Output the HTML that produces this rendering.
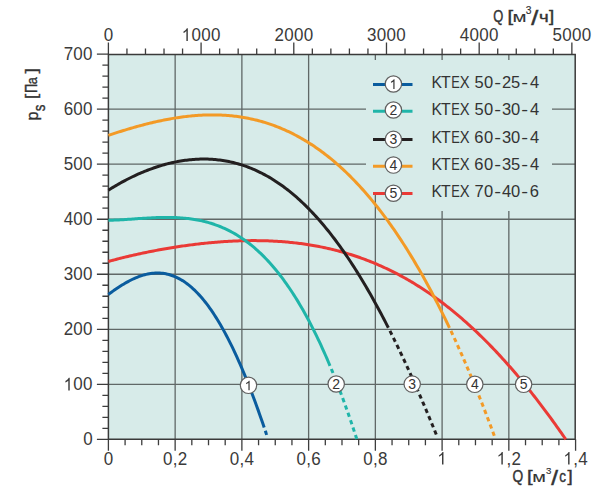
<!DOCTYPE html>
<html><head><meta charset="utf-8"><style>
html,body{margin:0;padding:0;background:#fff;}
svg{display:block;font-family:"Liberation Sans",sans-serif;}
</style></head><body>
<svg width="600" height="492" viewBox="0 0 600 492">
<rect x="108.4" y="54.5" width="466.80000000000007" height="384.85" fill="#d7ebe9"/>
<path d="M175.14,54.50V439.35 M241.88,54.50V439.35 M308.62,54.50V439.35 M375.36,54.50V439.35 M442.10,54.50V439.35 M508.84,54.50V439.35 M108.40,384.32H575.20 M108.40,329.29H575.20 M108.40,274.26H575.20 M108.40,219.23H575.20 M108.40,164.20H575.20 M108.40,109.17H575.20" stroke="#111" stroke-opacity="0.6" stroke-width="1.3" fill="none"/>
<path d="M366,60 H552 V211 H378 V194 H366 Z" fill="#d7ebe9"/>
<path d="M96.90,439.35H108.40 M102.40,428.34H108.40 M102.40,417.34H108.40 M102.40,406.33H108.40 M102.40,395.33H108.40 M96.90,384.32H108.40 M102.40,373.31H108.40 M102.40,362.31H108.40 M102.40,351.30H108.40 M102.40,340.30H108.40 M96.90,329.29H108.40 M102.40,318.28H108.40 M102.40,307.28H108.40 M102.40,296.27H108.40 M102.40,285.27H108.40 M96.90,274.26H108.40 M102.40,263.25H108.40 M102.40,252.25H108.40 M102.40,241.24H108.40 M102.40,230.24H108.40 M96.90,219.23H108.40 M102.40,208.22H108.40 M102.40,197.22H108.40 M102.40,186.21H108.40 M102.40,175.21H108.40 M96.90,164.20H108.40 M102.40,153.19H108.40 M102.40,142.19H108.40 M102.40,131.18H108.40 M102.40,120.18H108.40 M96.90,109.17H108.40 M102.40,98.16H108.40 M102.40,87.16H108.40 M102.40,76.15H108.40 M102.40,65.15H108.40 M96.90,54.14H108.40 M108.40,439.35V450.85 M125.09,439.35V445.35 M141.77,439.35V445.35 M158.46,439.35V445.35 M175.14,439.35V450.85 M191.82,439.35V445.35 M208.51,439.35V445.35 M225.19,439.35V445.35 M241.88,439.35V450.85 M258.56,439.35V445.35 M275.25,439.35V445.35 M291.94,439.35V445.35 M308.62,439.35V450.85 M325.31,439.35V445.35 M341.99,439.35V445.35 M358.67,439.35V445.35 M375.36,439.35V450.85 M392.05,439.35V445.35 M408.73,439.35V445.35 M425.41,439.35V445.35 M442.10,439.35V450.85 M458.78,439.35V445.35 M475.47,439.35V445.35 M492.16,439.35V445.35 M508.84,439.35V450.85 M525.52,439.35V445.35 M542.21,439.35V445.35 M558.89,439.35V445.35 M575.58,439.35V450.85 M108.40,54.50V42.50 M126.94,54.50V48.50 M145.48,54.50V48.50 M164.02,54.50V48.50 M182.56,54.50V48.50 M201.09,54.50V42.50 M219.63,54.50V48.50 M238.17,54.50V48.50 M256.71,54.50V48.50 M275.25,54.50V48.50 M293.79,54.50V42.50 M312.33,54.50V48.50 M330.87,54.50V48.50 M349.41,54.50V48.50 M367.94,54.50V48.50 M386.48,54.50V42.50 M405.02,54.50V48.50 M423.56,54.50V48.50 M442.10,54.50V48.50 M460.64,54.50V48.50 M479.18,54.50V42.50 M497.72,54.50V48.50 M516.26,54.50V48.50 M534.79,54.50V48.50 M553.33,54.50V48.50 M571.87,54.50V42.50" stroke="#3d3d3d" stroke-width="1.3" fill="none"/>
<path d="M108.40,54.50H575.20V439.35H108.40Z" stroke="#3a3a3a" stroke-width="1.5" fill="none"/>
<path d="M108.40,261.45 L109.90,261.04 L111.41,260.63 L112.91,260.23 L114.42,259.83 L115.92,259.43 L117.43,259.04 L118.93,258.66 L120.44,258.28 L121.94,257.90 L123.45,257.53 L124.95,257.16 L126.46,256.80 L127.96,256.44 L129.47,256.08 L130.97,255.73 L132.48,255.38 L133.98,255.04 L135.48,254.70 L136.99,254.36 L138.49,254.03 L140.00,253.71 L141.50,253.38 L143.01,253.06 L144.51,252.75 L146.02,252.43 L147.52,252.13 L149.03,251.82 L150.53,251.52 L152.04,251.23 L153.54,250.93 L155.05,250.64 L156.55,250.36 L158.06,250.08 L159.56,249.80 L161.07,249.53 L162.57,249.26 L164.07,248.99 L165.58,248.73 L167.08,248.47 L168.59,248.22 L170.09,247.97 L171.60,247.72 L173.10,247.48 L174.61,247.24 L176.11,247.00 L177.62,246.77 L179.12,246.54 L180.63,246.32 L182.13,246.10 L183.64,245.88 L185.14,245.67 L186.65,245.47 L188.15,245.26 L189.65,245.06 L191.16,244.87 L192.66,244.67 L194.17,244.49 L195.67,244.30 L197.18,244.12 L198.68,243.95 L200.19,243.77 L201.69,243.61 L203.20,243.44 L204.70,243.29 L206.21,243.13 L207.71,242.98 L209.22,242.83 L210.72,242.69 L212.23,242.55 L213.73,242.42 L215.24,242.29 L216.74,242.17 L218.24,242.05 L219.75,241.93 L221.25,241.82 L222.76,241.72 L224.26,241.61 L225.77,241.52 L227.27,241.43 L228.78,241.34 L230.28,241.26 L231.79,241.18 L233.29,241.10 L234.80,241.04 L236.30,240.97 L237.81,240.91 L239.31,240.86 L240.82,240.81 L242.32,240.77 L243.82,240.73 L245.33,240.70 L246.83,240.67 L248.34,240.65 L249.84,240.63 L251.35,240.62 L252.85,240.62 L254.36,240.62 L255.86,240.62 L257.37,240.63 L258.87,240.65 L260.38,240.67 L261.88,240.70 L263.39,240.73 L264.89,240.77 L266.40,240.82 L267.90,240.87 L269.41,240.92 L270.91,240.99 L272.41,241.06 L273.92,241.13 L275.42,241.21 L276.93,241.30 L278.43,241.40 L279.94,241.50 L281.44,241.60 L282.95,241.72 L284.45,241.84 L285.96,241.97 L287.46,242.10 L288.97,242.24 L290.47,242.39 L291.98,242.54 L293.48,242.70 L294.99,242.87 L296.49,243.04 L297.99,243.23 L299.50,243.42 L301.00,243.61 L302.51,243.81 L304.01,244.03 L305.52,244.24 L307.02,244.47 L308.53,244.70 L310.03,244.94 L311.54,245.19 L313.04,245.45 L314.55,245.71 L316.05,245.98 L317.56,246.26 L319.06,246.55 L320.57,246.85 L322.07,247.15 L323.58,247.46 L325.08,247.78 L326.58,248.11 L328.09,248.45 L329.59,248.79 L331.10,249.14 L332.60,249.50 L334.11,249.88 L335.61,250.25 L337.12,250.64 L338.62,251.04 L340.13,251.44 L341.63,251.86 L343.14,252.28 L344.64,252.71 L346.15,253.15 L347.65,253.60 L349.16,254.06 L350.66,254.53 L352.16,255.01 L353.67,255.49 L355.17,255.99 L356.68,256.50 L358.18,257.01 L359.69,257.54 L361.19,258.07 L362.70,258.62 L364.20,259.17 L365.71,259.73 L367.21,260.31 L368.72,260.89 L370.22,261.49 L371.73,262.09 L373.23,262.70 L374.74,263.33 L376.24,263.96 L377.75,264.61 L379.25,265.26 L380.75,265.93 L382.26,266.60 L383.76,267.29 L385.27,267.99 L386.77,268.70 L388.28,269.41 L389.78,270.14 L391.29,270.88 L392.79,271.63 L394.30,272.40 L395.80,273.17 L397.31,273.95 L398.81,274.75 L400.32,275.55 L401.82,276.37 L403.33,277.20 L404.83,278.04 L406.33,278.89 L407.84,279.75 L409.34,280.63 L410.85,281.51 L412.35,282.41 L413.86,283.32 L415.36,284.24 L416.87,285.17 L418.37,286.11 L419.88,287.06 L421.38,288.03 L422.89,289.01 L424.39,290.00 L425.90,291.00 L427.40,292.02 L428.91,293.04 L430.41,294.08 L431.92,295.13 L433.42,296.19 L434.92,297.27 L436.43,298.35 L437.93,299.45 L439.44,300.57 L440.94,301.69 L442.45,302.82 L443.95,303.97 L445.46,305.13 L446.96,306.31 L448.47,307.49 L449.97,308.69 L451.48,309.90 L452.98,311.12 L454.49,312.36 L455.99,313.61 L457.50,314.87 L459.00,316.14 L460.50,317.43 L462.01,318.73 L463.51,320.04 L465.02,321.36 L466.52,322.70 L468.03,324.05 L469.53,325.41 L471.04,326.79 L472.54,328.18 L474.05,329.58 L475.55,330.99 L477.06,332.42 L478.56,333.86 L480.07,335.31 L481.57,336.78 L483.08,338.26 L484.58,339.75 L486.09,341.26 L487.59,342.77 L489.09,344.30 L490.60,345.85 L492.10,347.40 L493.61,348.97 L495.11,350.56 L496.62,352.15 L498.12,353.76 L499.63,355.38 L501.13,357.02 L502.64,358.67 L504.14,360.33 L505.65,362.00 L507.15,363.69 L508.66,365.39 L510.16,367.10 L511.67,368.83 L513.17,370.57 L514.67,372.32 L516.18,374.08 L517.68,375.86 L519.19,377.65 L520.69,379.45 L522.20,381.27 L523.70,383.10 L525.21,384.94 L526.71,386.79 L528.22,388.66 L529.72,390.54 L531.23,392.44 L532.73,394.34 L534.24,396.26 L535.74,398.19 L537.25,400.13 L538.75,402.09 L540.26,404.06 L541.76,406.04 L543.26,408.03 L544.77,410.04 L546.27,412.06 L547.78,414.09 L549.28,416.13 L550.79,418.19 L552.29,420.25 L553.80,422.33 L555.30,424.42 L556.81,426.53 L558.31,428.64 L559.82,430.77 L561.32,432.91 L562.83,435.06 L564.33,437.23 L565.84,439.40" stroke="#ea3a36" stroke-width="3" fill="none"/>
<path d="M108.40,135.34 L109.90,134.85 L111.41,134.35 L112.91,133.86 L114.41,133.37 L115.91,132.89 L117.42,132.41 L118.92,131.93 L120.42,131.46 L121.92,130.99 L123.43,130.52 L124.93,130.06 L126.43,129.61 L127.93,129.16 L129.44,128.71 L130.94,128.27 L132.44,127.84 L133.94,127.41 L135.45,126.98 L136.95,126.56 L138.45,126.15 L139.95,125.74 L141.46,125.34 L142.96,124.94 L144.46,124.55 L145.96,124.16 L147.47,123.78 L148.97,123.41 L150.47,123.04 L151.97,122.68 L153.48,122.33 L154.98,121.98 L156.48,121.64 L157.98,121.31 L159.49,120.98 L160.99,120.66 L162.49,120.35 L163.99,120.05 L165.50,119.75 L167.00,119.46 L168.50,119.18 L170.00,118.91 L171.51,118.64 L173.01,118.39 L174.51,118.14 L176.01,117.89 L177.52,117.66 L179.02,117.44 L180.52,117.22 L182.02,117.02 L183.53,116.82 L185.03,116.63 L186.53,116.45 L188.03,116.28 L189.54,116.12 L191.04,115.96 L192.54,115.82 L194.04,115.69 L195.55,115.57 L197.05,115.45 L198.55,115.35 L200.05,115.26 L201.56,115.17 L203.06,115.10 L204.56,115.04 L206.06,114.99 L207.57,114.95 L209.07,114.92 L210.57,114.90 L212.07,114.89 L213.58,114.89 L215.08,114.91 L216.58,114.93 L218.08,114.97 L219.59,115.02 L221.09,115.08 L222.59,115.15 L224.09,115.24 L225.60,115.33 L227.10,115.44 L228.60,115.56 L230.10,115.69 L231.61,115.84 L233.11,116.00 L234.61,116.17 L236.11,116.35 L237.62,116.55 L239.12,116.76 L240.62,116.98 L242.12,117.22 L243.63,117.47 L245.13,117.73 L246.63,118.00 L248.13,118.29 L249.64,118.60 L251.14,118.92 L252.64,119.25 L254.14,119.59 L255.65,119.96 L257.15,120.33 L258.65,120.72 L260.15,121.12 L261.66,121.54 L263.16,121.98 L264.66,122.42 L266.16,122.89 L267.67,123.37 L269.17,123.86 L270.67,124.37 L272.17,124.90 L273.68,125.44 L275.18,125.99 L276.68,126.57 L278.18,127.16 L279.69,127.76 L281.19,128.38 L282.69,129.02 L284.19,129.67 L285.70,130.34 L287.20,131.03 L288.70,131.73 L290.20,132.45 L291.71,133.19 L293.21,133.95 L294.71,134.72 L296.21,135.51 L297.72,136.31 L299.22,137.14 L300.72,137.98 L302.22,138.84 L303.73,139.72 L305.23,140.61 L306.73,141.53 L308.23,142.46 L309.74,143.41 L311.24,144.38 L312.74,145.37 L314.24,146.37 L315.75,147.40 L317.25,148.44 L318.75,149.51 L320.25,150.59 L321.76,151.69 L323.26,152.81 L324.76,153.95 L326.26,155.11 L327.77,156.29 L329.27,157.49 L330.77,158.71 L332.27,159.95 L333.78,161.21 L335.28,162.49 L336.78,163.79 L338.28,165.11 L339.79,166.45 L341.29,167.82 L342.79,169.20 L344.29,170.60 L345.80,172.03 L347.30,173.48 L348.80,174.94 L350.30,176.43 L351.81,177.94 L353.31,179.48 L354.81,181.03 L356.31,182.61 L357.82,184.21 L359.32,185.83 L360.82,187.47 L362.32,189.13 L363.83,190.82 L365.33,192.53 L366.83,194.26 L368.33,196.02 L369.84,197.80 L371.34,199.60 L372.84,201.42 L374.34,203.27 L375.85,205.14 L377.35,207.04 L378.85,208.96 L380.35,210.90 L381.86,212.86 L383.36,214.85 L384.86,216.87 L386.36,218.90 L387.87,220.97 L389.37,223.05 L390.87,225.16 L392.37,227.30 L393.88,229.46 L395.38,231.65 L396.88,233.86 L398.38,236.09 L399.89,238.35 L401.39,240.64 L402.89,242.95 L404.39,245.28 L405.90,247.65 L407.40,250.03 L408.90,252.45 L410.40,254.89 L411.91,257.35 L413.41,259.84 L414.91,262.36 L416.41,264.91 L417.92,267.48 L419.42,270.08 L420.92,272.70 L422.42,275.35 L423.93,278.03 L425.43,280.74 L426.93,283.47 L428.43,286.23 L429.94,289.02 L431.44,291.83 L432.94,294.67 L434.44,297.54 L435.95,300.44 L437.45,303.37 L438.95,306.32 L440.45,309.31 L441.96,312.32 L443.46,315.36 L444.96,318.42 L446.46,321.52 L447.97,324.65 L449.47,327.80" stroke="#f39a26" stroke-width="3" fill="none"/>
<path d="M449.47,327.80 L450.60,330.21 L451.74,332.63 L452.88,335.07 L454.01,337.52 L455.15,339.99 L456.29,342.48 L457.42,344.99 L458.56,347.51 L459.70,350.05 L460.83,352.61 L461.97,355.19 L463.11,357.78 L464.24,360.39 L465.38,363.01 L466.52,365.65 L467.65,368.32 L468.79,370.99 L469.93,373.69 L471.06,376.40 L472.20,379.13 L473.34,381.88 L474.47,384.65 L475.61,387.43 L476.75,390.23 L477.88,393.05 L479.02,395.89 L480.16,398.74 L481.29,401.61 L482.43,404.50 L483.57,407.41 L484.70,410.34 L485.84,413.28 L486.98,416.25 L488.11,419.23 L489.25,422.23 L490.39,425.24 L491.52,428.28 L492.66,431.34 L493.80,434.41 L494.93,437.50" stroke="#f39a26" stroke-width="3" fill="none" stroke-dasharray="0 3.5 4.3 0"/>
<path d="M108.40,190.21 L109.91,189.26 L111.41,188.32 L112.92,187.40 L114.42,186.49 L115.93,185.60 L117.43,184.72 L118.94,183.86 L120.44,183.01 L121.95,182.18 L123.45,181.36 L124.96,180.56 L126.46,179.77 L127.97,179.00 L129.47,178.24 L130.98,177.49 L132.48,176.76 L133.99,176.04 L135.49,175.34 L137.00,174.65 L138.50,173.98 L140.01,173.32 L141.51,172.67 L143.02,172.04 L144.52,171.42 L146.03,170.82 L147.53,170.23 L149.04,169.66 L150.54,169.10 L152.05,168.56 L153.56,168.03 L155.06,167.51 L156.57,167.01 L158.07,166.52 L159.58,166.05 L161.08,165.59 L162.59,165.15 L164.09,164.72 L165.60,164.31 L167.10,163.91 L168.61,163.53 L170.11,163.16 L171.62,162.81 L173.12,162.47 L174.63,162.15 L176.13,161.85 L177.64,161.55 L179.14,161.28 L180.65,161.02 L182.15,160.77 L183.66,160.55 L185.16,160.33 L186.67,160.14 L188.17,159.96 L189.68,159.79 L191.18,159.64 L192.69,159.51 L194.19,159.40 L195.70,159.30 L197.21,159.22 L198.71,159.15 L200.22,159.10 L201.72,159.07 L203.23,159.06 L204.73,159.06 L206.24,159.08 L207.74,159.12 L209.25,159.17 L210.75,159.25 L212.26,159.34 L213.76,159.45 L215.27,159.58 L216.77,159.72 L218.28,159.89 L219.78,160.07 L221.29,160.27 L222.79,160.49 L224.30,160.73 L225.80,160.99 L227.31,161.27 L228.81,161.57 L230.32,161.88 L231.82,162.22 L233.33,162.57 L234.83,162.95 L236.34,163.35 L237.84,163.76 L239.35,164.20 L240.86,164.66 L242.36,165.13 L243.87,165.63 L245.37,166.15 L246.88,166.69 L248.38,167.25 L249.89,167.84 L251.39,168.44 L252.90,169.07 L254.40,169.71 L255.91,170.38 L257.41,171.08 L258.92,171.79 L260.42,172.53 L261.93,173.28 L263.43,174.07 L264.94,174.87 L266.44,175.70 L267.95,176.55 L269.45,177.42 L270.96,178.32 L272.46,179.24 L273.97,180.18 L275.47,181.15 L276.98,182.14 L278.48,183.15 L279.99,184.19 L281.49,185.25 L283.00,186.34 L284.51,187.45 L286.01,188.59 L287.52,189.75 L289.02,190.93 L290.53,192.14 L292.03,193.38 L293.54,194.64 L295.04,195.92 L296.55,197.23 L298.05,198.57 L299.56,199.93 L301.06,201.32 L302.57,202.73 L304.07,204.17 L305.58,205.64 L307.08,207.13 L308.59,208.65 L310.09,210.19 L311.60,211.76 L313.10,213.36 L314.61,214.98 L316.11,216.63 L317.62,218.31 L319.12,220.01 L320.63,221.74 L322.13,223.49 L323.64,225.28 L325.14,227.09 L326.65,228.93 L328.16,230.79 L329.66,232.68 L331.17,234.60 L332.67,236.55 L334.18,238.52 L335.68,240.52 L337.19,242.55 L338.69,244.61 L340.20,246.69 L341.70,248.80 L343.21,250.94 L344.71,253.10 L346.22,255.30 L347.72,257.52 L349.23,259.76 L350.73,262.04 L352.24,264.34 L353.74,266.67 L355.25,269.03 L356.75,271.42 L358.26,273.83 L359.76,276.27 L361.27,278.74 L362.77,281.23 L364.28,283.76 L365.78,286.31 L367.29,288.88 L368.79,291.49 L370.30,294.12 L371.81,296.78 L373.31,299.47 L374.82,302.18 L376.32,304.92 L377.83,307.69 L379.33,310.48 L380.84,313.30 L382.34,316.15 L383.85,319.02 L385.35,321.92 L386.86,324.85 L388.36,327.80" stroke="#231f20" stroke-width="3" fill="none"/>
<path d="M388.36,327.80 L389.59,330.23 L390.82,332.68 L392.05,335.14 L393.28,337.62 L394.50,340.12 L395.73,342.63 L396.96,345.16 L398.19,347.71 L399.42,350.28 L400.65,352.86 L401.88,355.46 L403.10,358.07 L404.33,360.70 L405.56,363.35 L406.79,366.01 L408.02,368.69 L409.25,371.39 L410.48,374.10 L411.70,376.83 L412.93,379.57 L414.16,382.33 L415.39,385.10 L416.62,387.89 L417.85,390.70 L419.08,393.51 L420.30,396.35 L421.53,399.20 L422.76,402.06 L423.99,404.94 L425.22,407.83 L426.45,410.74 L427.67,413.66 L428.90,416.59 L430.13,419.54 L431.36,422.50 L432.59,425.47 L433.82,428.46 L435.05,431.46 L436.27,434.47 L437.50,437.50" stroke="#231f20" stroke-width="3" fill="none" stroke-dasharray="0 3.5 4.3 0"/>
<path d="M108.40,220.33 L109.91,220.29 L111.41,220.24 L112.92,220.18 L114.43,220.12 L115.94,220.05 L117.44,219.97 L118.95,219.89 L120.46,219.81 L121.97,219.72 L123.47,219.63 L124.98,219.54 L126.49,219.44 L128.00,219.34 L129.50,219.24 L131.01,219.14 L132.52,219.03 L134.03,218.93 L135.53,218.83 L137.04,218.72 L138.55,218.62 L140.06,218.52 L141.56,218.42 L143.07,218.32 L144.58,218.23 L146.09,218.13 L147.59,218.05 L149.10,217.96 L150.61,217.88 L152.12,217.81 L153.62,217.74 L155.13,217.67 L156.64,217.62 L158.15,217.56 L159.65,217.52 L161.16,217.48 L162.67,217.45 L164.18,217.43 L165.68,217.42 L167.19,217.42 L168.70,217.43 L170.21,217.44 L171.71,217.47 L173.22,217.51 L174.73,217.56 L176.24,217.62 L177.74,217.69 L179.25,217.78 L180.76,217.88 L182.27,217.99 L183.77,218.12 L185.28,218.26 L186.79,218.42 L188.30,218.59 L189.80,218.78 L191.31,218.98 L192.82,219.20 L194.33,219.44 L195.83,219.69 L197.34,219.97 L198.85,220.26 L200.36,220.57 L201.86,220.90 L203.37,221.25 L204.88,221.62 L206.39,222.01 L207.89,222.42 L209.40,222.85 L210.91,223.30 L212.42,223.78 L213.92,224.28 L215.43,224.80 L216.94,225.35 L218.45,225.92 L219.95,226.51 L221.46,227.13 L222.97,227.78 L224.48,228.45 L225.98,229.15 L227.49,229.87 L229.00,230.62 L230.51,231.40 L232.01,232.21 L233.52,233.04 L235.03,233.91 L236.54,234.80 L238.04,235.73 L239.55,236.68 L241.06,237.66 L242.57,238.68 L244.07,239.73 L245.58,240.81 L247.09,241.92 L248.60,243.06 L250.10,244.24 L251.61,245.45 L253.12,246.70 L254.63,247.98 L256.13,249.29 L257.64,250.64 L259.15,252.03 L260.66,253.45 L262.16,254.91 L263.67,256.41 L265.18,257.94 L266.69,259.52 L268.19,261.13 L269.70,262.78 L271.21,264.47 L272.72,266.20 L274.22,267.97 L275.73,269.78 L277.24,271.63 L278.75,273.52 L280.25,275.46 L281.76,277.44 L283.27,279.46 L284.78,281.52 L286.28,283.63 L287.79,285.78 L289.30,287.98 L290.81,290.22 L292.31,292.51 L293.82,294.84 L295.33,297.22 L296.84,299.65 L298.34,302.13 L299.85,304.65 L301.36,307.22 L302.87,309.84 L304.37,312.51 L305.88,315.22 L307.39,317.99 L308.90,320.81 L310.40,323.68 L311.91,326.60 L313.42,329.57 L314.93,332.60 L316.43,335.67 L317.94,338.80 L319.45,341.98 L320.96,345.22 L322.46,348.51 L323.97,351.86 L325.48,355.26 L326.98,358.72 L328.49,362.23 L330.00,365.80" stroke="#1fb5a9" stroke-width="3" fill="none"/>
<path d="M330.00,365.80 L330.67,367.41 L331.34,369.03 L332.02,370.66 L332.69,372.30 L333.36,373.96 L334.03,375.63 L334.70,377.30 L335.37,378.99 L336.05,380.69 L336.72,382.41 L337.39,384.13 L338.06,385.87 L338.73,387.61 L339.40,389.37 L340.08,391.15 L340.75,392.93 L341.42,394.72 L342.09,396.53 L342.76,398.35 L343.44,400.18 L344.11,402.03 L344.78,403.88 L345.45,405.75 L346.12,407.63 L346.79,409.52 L347.47,411.43 L348.14,413.34 L348.81,415.27 L349.48,417.21 L350.15,419.17 L350.83,421.13 L351.50,423.11 L352.17,425.10 L352.84,427.11 L353.51,429.13 L354.18,431.15 L354.86,433.20 L355.53,435.25 L356.20,437.32 L356.87,439.40" stroke="#1fb5a9" stroke-width="3" fill="none" stroke-dasharray="0 3.5 4.3 0"/>
<path d="M108.40,294.42 L109.91,293.31 L111.43,292.21 L112.94,291.13 L114.45,290.06 L115.96,289.02 L117.48,288.00 L118.99,287.00 L120.50,286.03 L122.01,285.08 L123.53,284.16 L125.04,283.26 L126.55,282.40 L128.06,281.57 L129.58,280.76 L131.09,280.00 L132.60,279.26 L134.11,278.56 L135.63,277.90 L137.14,277.27 L138.65,276.68 L140.16,276.14 L141.68,275.63 L143.19,275.16 L144.70,274.74 L146.21,274.36 L147.73,274.03 L149.24,273.74 L150.75,273.50 L152.26,273.30 L153.78,273.16 L155.29,273.06 L156.80,273.01 L158.31,273.02 L159.83,273.07 L161.34,273.18 L162.85,273.34 L164.36,273.56 L165.88,273.83 L167.39,274.16 L168.90,274.54 L170.41,274.98 L171.93,275.48 L173.44,276.03 L174.95,276.64 L176.46,277.32 L177.98,278.05 L179.49,278.84 L181.00,279.70 L182.51,280.61 L184.03,281.59 L185.54,282.63 L187.05,283.73 L188.56,284.90 L190.08,286.13 L191.59,287.42 L193.10,288.78 L194.61,290.20 L196.13,291.69 L197.64,293.24 L199.15,294.86 L200.66,296.55 L202.18,298.30 L203.69,300.12 L205.20,302.00 L206.71,303.95 L208.23,305.97 L209.74,308.06 L211.25,310.21 L212.76,312.43 L214.28,314.72 L215.79,317.08 L217.30,319.50 L218.81,321.99 L220.33,324.55 L221.84,327.18 L223.35,329.87 L224.86,332.63 L226.38,335.46 L227.89,338.36 L229.40,341.32 L230.91,344.35 L232.43,347.45 L233.94,350.61 L235.45,353.85 L236.96,357.14 L238.48,360.51 L239.99,363.94 L241.50,367.43 L243.01,370.99 L244.53,374.62 L246.04,378.31 L247.55,382.07 L249.06,385.88 L250.58,389.77 L252.09,393.71 L253.60,397.72 L255.11,401.79 L256.63,405.93 L258.14,410.12 L259.65,414.38 L261.16,418.69 L262.68,423.07 L264.19,427.50" stroke="#0a5c9e" stroke-width="3" fill="none"/>
<path d="M264.19,427.50 L264.26,427.71 L264.33,427.92 L264.40,428.13 L264.47,428.34 L264.54,428.55 L264.62,428.76 L264.69,428.97 L264.76,429.18 L264.83,429.39 L264.90,429.61 L264.97,429.82 L265.04,430.03 L265.11,430.24 L265.18,430.45 L265.26,430.66 L265.33,430.88 L265.40,431.09 L265.47,431.30 L265.54,431.51 L265.61,431.72 L265.68,431.94 L265.75,432.15 L265.83,432.36 L265.90,432.58 L265.97,432.79 L266.04,433.00 L266.11,433.22 L266.18,433.43 L266.25,433.64 L266.32,433.86 L266.39,434.07 L266.47,434.28 L266.54,434.50 L266.61,434.71 L266.68,434.93 L266.75,435.14 L266.82,435.36 L266.89,435.57 L266.96,435.79 L267.03,436.00" stroke="#0a5c9e" stroke-width="3" fill="none" stroke-dasharray="0 3.5 4.3 0"/>
<circle cx="248.50" cy="385.30" r="8.2" fill="#fff" stroke="#606060" stroke-width="1.2"/><text x="244.61" y="390.30" font-size="14" fill="#333" > </text><path d="M763 0H583V1147Q518 1085 412 1023Q306 961 222 930V1104Q373 1175 486 1276Q599 1377 646 1472H763Z" fill="#333" transform="translate(244.61,390.30) scale(0.006569,-0.006569)"/>
<circle cx="336.20" cy="384.00" r="8.2" fill="#fff" stroke="#606060" stroke-width="1.2"/><text x="332.31" y="389.00" font-size="14" fill="#333" >2</text>
<circle cx="412.20" cy="384.10" r="8.2" fill="#fff" stroke="#606060" stroke-width="1.2"/><text x="408.31" y="389.10" font-size="14" fill="#333" >3</text>
<circle cx="474.80" cy="384.30" r="8.2" fill="#fff" stroke="#606060" stroke-width="1.2"/><text x="470.91" y="389.30" font-size="14" fill="#333" >4</text>
<circle cx="523.60" cy="384.30" r="8.2" fill="#fff" stroke="#606060" stroke-width="1.2"/><text x="519.71" y="389.30" font-size="14" fill="#333" >5</text>
<path d="M373,84.50H412.5" stroke="#0a5c9e" stroke-width="3"/>
<circle cx="393.40" cy="84.00" r="8.2" fill="#fff" stroke="#606060" stroke-width="1.2"/><text x="389.51" y="89.00" font-size="14" fill="#333" > </text><path d="M763 0H583V1147Q518 1085 412 1023Q306 961 222 930V1104Q373 1175 486 1276Q599 1377 646 1472H763Z" fill="#333" transform="translate(389.51,89.00) scale(0.006569,-0.006569)"/>
<text transform="matrix(0.9507,0,0,1.05,431.463,88.000)" font-size="16.5" fill="#333">K</text><text transform="matrix(0.9647,0,0,1.05,440.892,88.000)" font-size="16.5" fill="#333">T</text><text transform="matrix(0.7827,0,0,1.05,451.191,88.000)" font-size="16.5" fill="#333">E</text><text transform="matrix(0.8942,0,0,1.05,459.819,88.000)" font-size="16.5" fill="#333">X</text><text transform="matrix(1.0000,0,0,1.05,474.428,88.000)" font-size="16.5" fill="#333">5</text><text transform="matrix(1.0000,0,0,1.05,483.912,88.000)" font-size="16.5" fill="#333">0</text><text transform="matrix(1.2412,0,0,1.05,494.340,88.000)" font-size="16.5" fill="#333">-</text><text transform="matrix(1.0000,0,0,1.05,501.912,88.000)" font-size="16.5" fill="#333">2</text><text transform="matrix(1.0000,0,0,1.05,510.928,88.000)" font-size="16.5" fill="#333">5</text><text transform="matrix(1.2412,0,0,1.05,521.340,88.000)" font-size="16.5" fill="#333">-</text><text transform="matrix(1.0000,0,0,1.05,529.964,88.000)" font-size="16.5" fill="#333">4</text>
<path d="M373,111.25H412.5" stroke="#1fb5a9" stroke-width="3"/>
<circle cx="393.40" cy="110.00" r="8.2" fill="#fff" stroke="#606060" stroke-width="1.2"/><text x="389.51" y="115.00" font-size="14" fill="#333" >2</text>
<text transform="matrix(0.9507,0,0,1.05,431.463,115.350)" font-size="16.5" fill="#333">K</text><text transform="matrix(0.9647,0,0,1.05,440.892,115.350)" font-size="16.5" fill="#333">T</text><text transform="matrix(0.7827,0,0,1.05,451.191,115.350)" font-size="16.5" fill="#333">E</text><text transform="matrix(0.8942,0,0,1.05,459.819,115.350)" font-size="16.5" fill="#333">X</text><text transform="matrix(1.0000,0,0,1.05,474.428,115.350)" font-size="16.5" fill="#333">5</text><text transform="matrix(1.0000,0,0,1.05,483.912,115.350)" font-size="16.5" fill="#333">0</text><text transform="matrix(1.2412,0,0,1.05,494.340,115.350)" font-size="16.5" fill="#333">-</text><text transform="matrix(1.0000,0,0,1.05,501.960,115.350)" font-size="16.5" fill="#333">3</text><text transform="matrix(1.0000,0,0,1.05,510.912,115.350)" font-size="16.5" fill="#333">0</text><text transform="matrix(1.2412,0,0,1.05,521.340,115.350)" font-size="16.5" fill="#333">-</text><text transform="matrix(1.0000,0,0,1.05,529.964,115.350)" font-size="16.5" fill="#333">4</text>
<path d="M373,139.40H412.5" stroke="#231f20" stroke-width="3"/>
<circle cx="393.40" cy="139.40" r="8.2" fill="#fff" stroke="#606060" stroke-width="1.2"/><text x="389.51" y="144.40" font-size="14" fill="#333" >3</text>
<text transform="matrix(0.9507,0,0,1.05,431.463,142.700)" font-size="16.5" fill="#333">K</text><text transform="matrix(0.9647,0,0,1.05,440.892,142.700)" font-size="16.5" fill="#333">T</text><text transform="matrix(0.7827,0,0,1.05,451.191,142.700)" font-size="16.5" fill="#333">E</text><text transform="matrix(0.8942,0,0,1.05,459.819,142.700)" font-size="16.5" fill="#333">X</text><text transform="matrix(1.0000,0,0,1.05,474.355,142.700)" font-size="16.5" fill="#333">6</text><text transform="matrix(1.0000,0,0,1.05,483.912,142.700)" font-size="16.5" fill="#333">0</text><text transform="matrix(1.2412,0,0,1.05,494.340,142.700)" font-size="16.5" fill="#333">-</text><text transform="matrix(1.0000,0,0,1.05,501.960,142.700)" font-size="16.5" fill="#333">3</text><text transform="matrix(1.0000,0,0,1.05,510.912,142.700)" font-size="16.5" fill="#333">0</text><text transform="matrix(1.2412,0,0,1.05,521.340,142.700)" font-size="16.5" fill="#333">-</text><text transform="matrix(1.0000,0,0,1.05,529.964,142.700)" font-size="16.5" fill="#333">4</text>
<path d="M373,166.30H412.5" stroke="#f39a26" stroke-width="3"/>
<circle cx="393.40" cy="165.05" r="8.2" fill="#fff" stroke="#606060" stroke-width="1.2"/><text x="389.51" y="170.05" font-size="14" fill="#333" >4</text>
<text transform="matrix(0.9507,0,0,1.05,431.463,170.050)" font-size="16.5" fill="#333">K</text><text transform="matrix(0.9647,0,0,1.05,440.892,170.050)" font-size="16.5" fill="#333">T</text><text transform="matrix(0.7827,0,0,1.05,451.191,170.050)" font-size="16.5" fill="#333">E</text><text transform="matrix(0.8942,0,0,1.05,459.819,170.050)" font-size="16.5" fill="#333">X</text><text transform="matrix(1.0000,0,0,1.05,474.355,170.050)" font-size="16.5" fill="#333">6</text><text transform="matrix(1.0000,0,0,1.05,483.912,170.050)" font-size="16.5" fill="#333">0</text><text transform="matrix(1.2412,0,0,1.05,494.340,170.050)" font-size="16.5" fill="#333">-</text><text transform="matrix(1.0000,0,0,1.05,501.960,170.050)" font-size="16.5" fill="#333">3</text><text transform="matrix(1.0000,0,0,1.05,510.928,170.050)" font-size="16.5" fill="#333">5</text><text transform="matrix(1.2412,0,0,1.05,521.340,170.050)" font-size="16.5" fill="#333">-</text><text transform="matrix(1.0000,0,0,1.05,529.964,170.050)" font-size="16.5" fill="#333">4</text>
<path d="M373,193.50H412.5" stroke="#ea3a36" stroke-width="3"/>
<circle cx="393.40" cy="193.25" r="8.2" fill="#fff" stroke="#606060" stroke-width="1.2"/><text x="389.51" y="198.25" font-size="14" fill="#333" >5</text>
<text transform="matrix(0.9507,0,0,1.05,431.463,197.400)" font-size="16.5" fill="#333">K</text><text transform="matrix(0.9647,0,0,1.05,440.892,197.400)" font-size="16.5" fill="#333">T</text><text transform="matrix(0.7827,0,0,1.05,451.191,197.400)" font-size="16.5" fill="#333">E</text><text transform="matrix(0.8942,0,0,1.05,459.819,197.400)" font-size="16.5" fill="#333">X</text><text transform="matrix(1.0000,0,0,1.05,474.404,197.400)" font-size="16.5" fill="#333">7</text><text transform="matrix(1.0000,0,0,1.05,483.912,197.400)" font-size="16.5" fill="#333">0</text><text transform="matrix(1.2412,0,0,1.05,494.340,197.400)" font-size="16.5" fill="#333">-</text><text transform="matrix(1.0000,0,0,1.05,501.964,197.400)" font-size="16.5" fill="#333">4</text><text transform="matrix(1.0000,0,0,1.05,510.912,197.400)" font-size="16.5" fill="#333">0</text><text transform="matrix(1.2412,0,0,1.05,521.340,197.400)" font-size="16.5" fill="#333">-</text><text transform="matrix(1.0000,0,0,1.05,529.855,197.400)" font-size="16.5" fill="#333">6</text>
<g transform="matrix(1,0,0,1.07,0,-31.182)"><text x="83.15" y="445.45" font-size="17.0" letter-spacing="0.3" fill="#3a3a3a" >0</text></g>
<g transform="matrix(1,0,0,1.07,0,-27.329)"><text x="63.64" y="390.42" font-size="17.0" letter-spacing="0.3" fill="#3a3a3a" > 00</text><path d="M763 0H583V1147Q518 1085 412 1023Q306 961 222 930V1104Q373 1175 486 1276Q599 1377 646 1472H763Z" fill="#3a3a3a" transform="translate(63.64,390.42) scale(0.007977,-0.007977)"/></g>
<g transform="matrix(1,0,0,1.07,0,-23.477)"><text x="63.64" y="335.39" font-size="17.0" letter-spacing="0.3" fill="#3a3a3a" >200</text></g>
<g transform="matrix(1,0,0,1.07,0,-19.625)"><text x="63.64" y="280.36" font-size="17.0" letter-spacing="0.3" fill="#3a3a3a" >300</text></g>
<g transform="matrix(1,0,0,1.07,0,-15.773)"><text x="63.64" y="225.33" font-size="17.0" letter-spacing="0.3" fill="#3a3a3a" >400</text></g>
<g transform="matrix(1,0,0,1.07,0,-11.921)"><text x="63.64" y="170.30" font-size="17.0" letter-spacing="0.3" fill="#3a3a3a" >500</text></g>
<g transform="matrix(1,0,0,1.07,0,-8.069)"><text x="63.64" y="115.27" font-size="17.0" letter-spacing="0.3" fill="#3a3a3a" >600</text></g>
<g transform="matrix(1,0,0,1.07,0,-4.217)"><text x="63.64" y="60.24" font-size="17.0" letter-spacing="0.3" fill="#3a3a3a" >700</text></g>
<g transform="matrix(1,0,0,1.07,0,-32.522)"><text x="103.67" y="464.60" font-size="17.0" letter-spacing="0.3" fill="#3a3a3a" >0</text></g>
<g transform="matrix(1,0,0,1.07,0,-32.522)"><text x="163.02" y="464.60" font-size="17.0" letter-spacing="0.3" fill="#3a3a3a" >0,2</text></g>
<g transform="matrix(1,0,0,1.07,0,-32.522)"><text x="229.76" y="464.60" font-size="17.0" letter-spacing="0.3" fill="#3a3a3a" >0,4</text></g>
<g transform="matrix(1,0,0,1.07,0,-32.522)"><text x="296.50" y="464.60" font-size="17.0" letter-spacing="0.3" fill="#3a3a3a" >0,6</text></g>
<g transform="matrix(1,0,0,1.07,0,-32.522)"><text x="363.24" y="464.60" font-size="17.0" letter-spacing="0.3" fill="#3a3a3a" >0,8</text></g>
<g transform="matrix(1,0,0,1.07,0,-32.522)"><text x="437.37" y="464.60" font-size="17.0" letter-spacing="0.3" fill="#3a3a3a" > </text><path d="M763 0H583V1147Q518 1085 412 1023Q306 961 222 930V1104Q373 1175 486 1276Q599 1377 646 1472H763Z" fill="#3a3a3a" transform="translate(437.37,464.60) scale(0.007977,-0.007977)"/></g>
<g transform="matrix(1,0,0,1.07,0,-32.522)"><text x="496.72" y="464.60" font-size="17.0" letter-spacing="0.3" fill="#3a3a3a" > ,2</text><path d="M763 0H583V1147Q518 1085 412 1023Q306 961 222 930V1104Q373 1175 486 1276Q599 1377 646 1472H763Z" fill="#3a3a3a" transform="translate(496.72,464.60) scale(0.007977,-0.007977)"/></g>
<g transform="matrix(1,0,0,1.07,0,-32.522)"><text x="563.46" y="464.60" font-size="17.0" letter-spacing="0.3" fill="#3a3a3a" > ,4</text><path d="M763 0H583V1147Q518 1085 412 1023Q306 961 222 930V1104Q373 1175 486 1276Q599 1377 646 1472H763Z" fill="#3a3a3a" transform="translate(563.46,464.60) scale(0.007977,-0.007977)"/></g>
<g transform="matrix(1,0,0,1.07,0,-2.863)"><text x="103.67" y="40.90" font-size="17.0" letter-spacing="0.3" fill="#3a3a3a" >0</text></g>
<g transform="matrix(1,0,0,1.07,0,-2.863)"><text x="181.74" y="40.90" font-size="17.0" letter-spacing="0.3" fill="#3a3a3a" > 000</text><path d="M763 0H583V1147Q518 1085 412 1023Q306 961 222 930V1104Q373 1175 486 1276Q599 1377 646 1472H763Z" fill="#3a3a3a" transform="translate(181.74,40.90) scale(0.007977,-0.007977)"/></g>
<g transform="matrix(1,0,0,1.07,0,-2.863)"><text x="274.43" y="40.90" font-size="17.0" letter-spacing="0.3" fill="#3a3a3a" >2000</text></g>
<g transform="matrix(1,0,0,1.07,0,-2.863)"><text x="367.12" y="40.90" font-size="17.0" letter-spacing="0.3" fill="#3a3a3a" >3000</text></g>
<g transform="matrix(1,0,0,1.07,0,-2.863)"><text x="459.82" y="40.90" font-size="17.0" letter-spacing="0.3" fill="#3a3a3a" >4000</text></g>
<g transform="matrix(1,0,0,1.07,0,-2.863)"><text x="552.51" y="40.90" font-size="17.0" letter-spacing="0.3" fill="#3a3a3a" >5000</text></g>
<text transform="matrix(0.8057,0,0,1.0417,493.239,21.887)" font-size="16" fill="#333" stroke="#333" stroke-width="0.4">Q</text>
<text transform="matrix(1.2580,0,0,1.0326,507.415,21.622)" font-size="16" fill="#333" stroke="#333" stroke-width="0.4">[</text>
<text transform="matrix(1.2743,0,0,0.9346,512.536,21.750)" font-size="16" fill="#333" stroke="#333" stroke-width="0.1">м</text>
<text transform="matrix(0.6459,0,0,0.6444,525.856,14.449)" font-size="16" fill="#333" stroke="#333" stroke-width="0.25">3</text>
<text transform="matrix(1.5747,0,0,1.2596,531.350,24.553)" font-size="16" fill="#333" stroke="#333" stroke-width="0.4">/</text>
<text transform="matrix(1.1651,0,0,0.9346,538.940,21.750)" font-size="16" fill="#333" stroke="#333" stroke-width="0.4">ч</text>
<text transform="matrix(1.1636,0,0,1.0326,548.905,21.622)" font-size="16" fill="#333" stroke="#333" stroke-width="0.4">]</text>
<text transform="matrix(0.8607,0,0,1.0593,512.398,481.784)" font-size="16" fill="#333" stroke="#333" stroke-width="0.4">Q</text>
<text transform="matrix(1.2580,0,0,1.0527,526.915,481.555)" font-size="16" fill="#333" stroke="#333" stroke-width="0.4">[</text>
<text transform="matrix(1.2402,0,0,0.9582,532.374,481.750)" font-size="16" fill="#333" stroke="#333" stroke-width="0.1">м</text>
<text transform="matrix(0.6064,0,0,0.5650,545.980,473.562)" font-size="16" fill="#333" stroke="#333" stroke-width="0.25">3</text>
<text transform="matrix(1.5072,0,0,1.2851,551.150,484.549)" font-size="16" fill="#333" stroke="#333" stroke-width="0.4">/</text>
<text transform="matrix(0.8408,0,0,0.9925,559.279,481.795)" font-size="16" fill="#333" stroke="#333" stroke-width="0.4">с</text>
<text transform="matrix(1.1636,0,0,1.0527,567.505,481.555)" font-size="16" fill="#333" stroke="#333" stroke-width="0.4">]</text>
<text transform="matrix(0,-0.9549,0.9316,0,37.564,120.596)" font-size="17" fill="#333" stroke="#333" stroke-width="0.4">p</text>
<text transform="matrix(0,-0.7825,0.9905,0,45.486,111.220)" font-size="17" fill="#333" stroke="#333" stroke-width="0.4">s</text>
<text transform="matrix(0,-1.1544,0.9845,0,37.127,99.349)" font-size="17" fill="#333" stroke="#333" stroke-width="0.4">[</text>
<text transform="matrix(0,-0.7529,0.9918,0,37.350,93.087)" font-size="17" fill="#333" stroke="#333" stroke-width="0.4">П</text>
<text transform="matrix(0,-0.7444,0.8912,0,37.202,84.288)" font-size="17" fill="#333" stroke="#333" stroke-width="0.4">а</text>
<text transform="matrix(0,-1.1544,0.9845,0,37.127,73.603)" font-size="17" fill="#333" stroke="#333" stroke-width="0.4">]</text>
</svg>
</body></html>
